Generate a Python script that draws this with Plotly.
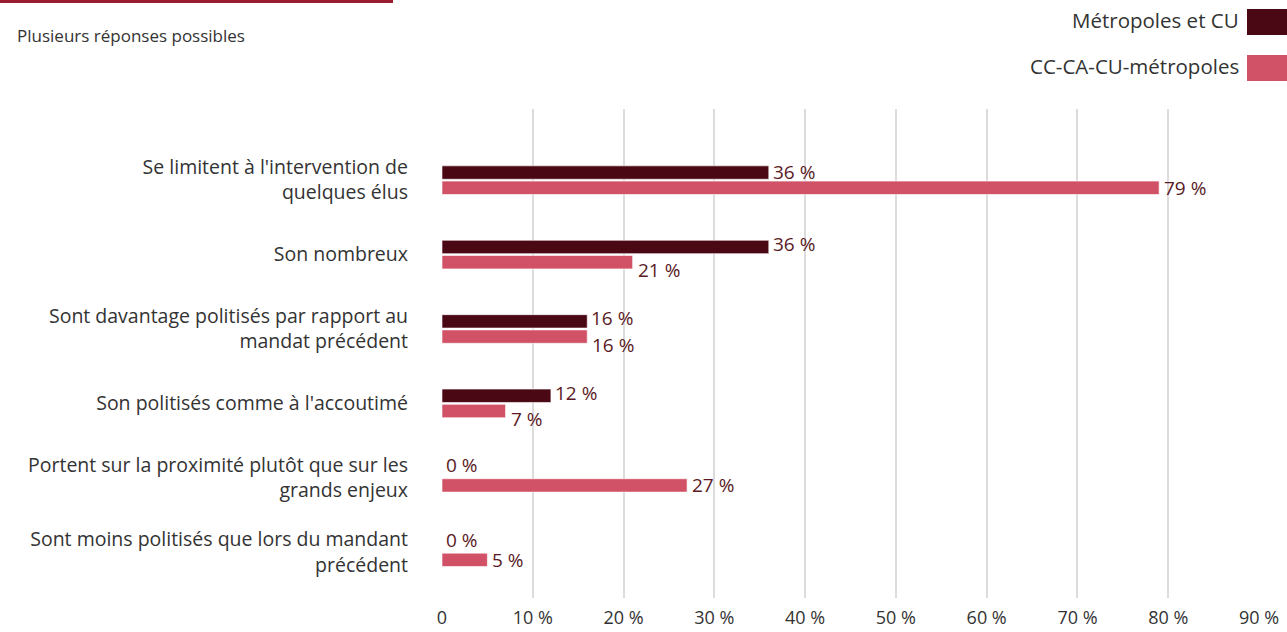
import plotly.graph_objects as go

# Survey data (percent of respondents, several answers possible)
categories = [
    "Se limitent à l'intervention de<br>quelques élus",
    "Son nombreux",
    "Sont davantage politisés par rapport au<br>mandat précédent",
    "Son politisés comme à l'accoutimé",
    "Portent sur la proximité plutôt que sur les<br>grands enjeux",
    "Sont moins politisés que lors du mandant<br>précédent",
]
metropoles_cu = [36, 36, 16, 12, 0, 0]
cc_ca_cu_metropoles = [79, 21, 16, 7, 27, 5]
x_ticks = [0, 10, 20, 30, 40, 50, 60, 70, 80, 90]
x_tick_labels = ["0", "10 %", "20 %", "30 %", "40 %", "50 %", "60 %", "70 %", "80 %", "90 %"]

DARK = "#4a0714"
PINK = "#d15266"
LABEL = "#5a1a24"
TEXT = "#333333"
FONT = "'Open Sans', sans-serif"

BAR_W = 0.18
DARK_OFF = -0.19
PINK_OFF = 0.015

fig = go.Figure()

fig.add_trace(go.Bar(
    y=categories, x=metropoles_cu, orientation="h",
    name="Métropoles et CU",
    marker=dict(color=DARK, line=dict(color="rgba(255,255,255,0.6)", width=1)),
    width=BAR_W, offset=DARK_OFF, cliponaxis=False,
))
fig.add_trace(go.Bar(
    y=categories, x=cc_ca_cu_metropoles, orientation="h",
    name="CC-CA-CU-métropoles",
    marker=dict(color=PINK, line=dict(color="rgba(255,255,255,0.6)", width=1)),
    width=BAR_W, offset=PINK_OFF, cliponaxis=False,
))

# Value labels at the end of each bar; when both values are close the
# two labels are pushed apart vertically so they do not collide.
label_font = dict(color=LABEL, size=19, family=FONT)
for i, (a, b) in enumerate(zip(metropoles_cu, cc_ca_cu_metropoles)):
    close = a > 0 and abs(a - b) < 20
    fig.add_annotation(x=a, y=i + DARK_OFF + BAR_W / 2, xref="x", yref="y",
                       text=f"{a} %", showarrow=False, xanchor="left",
                       yanchor="middle", xshift=2,
                       yshift=5 if a == 0 else (3 if close else 1),
                       font=label_font)
    fig.add_annotation(x=b, y=i + PINK_OFF + BAR_W / 2, xref="x", yref="y",
                       text=f"{b} %", showarrow=False, xanchor="left",
                       yanchor="middle", xshift=3, yshift=-8 if close else 0,
                       font=label_font)

fig.update_layout(
    width=1287, height=632,
    margin=dict(l=442, r=28, t=109, b=34),
    paper_bgcolor="white", plot_bgcolor="white",
    showlegend=False,
    font=dict(family=FONT, color=TEXT),
    xaxis=dict(
        range=[0, 90], tickvals=x_ticks, ticktext=x_tick_labels,
        showgrid=True, gridcolor="#dcdcdc", gridwidth=1.5,
        zeroline=False, showline=False, automargin=False,
        tickfont=dict(size=18, color=TEXT), ticks="",
        ticklabelstandoff=7,
    ),
    yaxis=dict(
        type="category", categoryorder="array", categoryarray=categories,
        range=[5.618, -0.954],
        showgrid=False, zeroline=False, showline=False, automargin=False,
        tickfont=dict(size=19.5, color=TEXT), ticks="",
        ticklabelstandoff=33,
    ),
)

# Decorative header rule and subtitle
fig.add_shape(type="rect", xref="paper", yref="paper",
              x0=-442 / 817, x1=(393 - 442) / 817,
              y0=1 + (109 - 3) / 489, y1=1 + 109 / 489,
              fillcolor="#9b1b30", line=dict(width=0), layer="above")
fig.add_annotation(text="Plusieurs réponses possibles", xref="paper", yref="paper",
                   x=(15 - 442) / 817, y=1 + (109 - 35) / 489,
                   xanchor="left", yanchor="middle", showarrow=False,
                   font=dict(size=17, color=TEXT, family=FONT))

# Legend drawn with the swatch on the right of each label
legend_items = [("Métropoles et CU", DARK, 22), ("CC-CA-CU-métropoles", PINK, 68)]
for label, color, yc in legend_items:
    fig.add_shape(type="rect", xref="paper", yref="paper",
                  x0=(1247 - 442) / 817, x1=(1290 - 442) / 817,
                  y0=1 + (109 - yc - 13) / 489, y1=1 + (109 - yc + 13) / 489,
                  fillcolor=color, line=dict(width=0))
    fig.add_annotation(text=label, xref="paper", yref="paper",
                       x=(1241 - 442) / 817, y=1 + (109 - yc + 2) / 489,
                       xanchor="right", yanchor="middle", showarrow=False,
                       font=dict(size=20.5, color=TEXT, family=FONT))

fig.write_html("out.html")
